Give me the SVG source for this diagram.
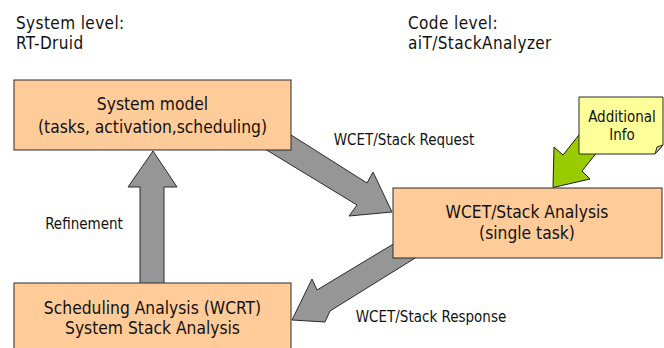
<svg xmlns="http://www.w3.org/2000/svg" width="664" height="348" viewBox="0 0 664 348">
<style>
text{font-family:"DejaVu Sans Condensed","DejaVu Sans",sans-serif;font-stretch:condensed;fill:#111}
.hdr{font-size:17px;letter-spacing:0.4px}
.box{fill:#FFCC99;stroke:#2b2b2b;stroke-width:1}
.bt{font-size:17.3px;text-anchor:middle}
.lbl{font-size:15px;text-anchor:middle}
.arr{fill:#969696;stroke:#2b2b2b;stroke-width:1;stroke-linejoin:miter}
.garr{fill:#99CC00;stroke:#1a1a1a;stroke-width:1}
.note{fill:#FFFF99;stroke:#2b2b2b;stroke-width:1}
</style>
<rect width="664" height="348" fill="#ffffff"/>
<g id="headers">
<text class="hdr" x="16" y="28.5">System level:</text>
<text class="hdr" x="16" y="48.5">RT-Druid</text>
<text class="hdr" x="408" y="28.5">Code level:</text>
<text class="hdr" x="408" y="48.5">aiT/StackAnalyzer</text>
</g>
<g id="connectors">
<polygon class="arr" points="280,128 367,183 373,172 392,212 349,216 357,205 260,146"/>
<polygon class="arr" points="292,320 312,279 317,290 400,240 420,255 330,311 325,322"/>
<polygon class="arr" points="153,151 177,187 164,187 164,292 140,292 140,187 128,187"/>
<polygon class="garr" points="553,187.5 554,147 563,155 586,126 602,146 582,171 590,179"/>
<text class="lbl" x="404" y="145">WCET/Stack Request</text>
<text class="lbl" x="431" y="322">WCET/Stack Response</text>
<text class="lbl" x="84" y="229">Refinement</text>
</g>
<g id="system-model">
<rect class="box" x="14" y="80" width="277" height="70"/>
<text class="bt" x="152.5" y="110">System model</text>
<text class="bt" x="152.5" y="133">(tasks, activation,scheduling)</text>
</g>
<g id="wcet-analysis">
<rect class="box" x="393" y="188" width="269" height="70"/>
<text class="bt" x="527" y="218">WCET/Stack Analysis</text>
<text class="bt" x="527" y="239">(single task)</text>
</g>
<g id="scheduling-analysis">
<rect class="box" x="14" y="283" width="277" height="72"/>
<text class="bt" x="152.5" y="314">Scheduling Analysis (WCRT)</text>
<text class="bt" x="152.5" y="334">System Stack Analysis</text>
</g>
<g id="additional-info">
<polygon class="note" points="579,97 663,97 663,145 655,154 579,154"/>
<polygon points="655,154 663,145 657,147" fill="#cfcf8a" stroke="#2b2b2b" stroke-width="1"/>
<text class="lbl" x="622" y="122">Additional</text>
<text class="lbl" x="622" y="140">Info</text>
</g>
</svg>
